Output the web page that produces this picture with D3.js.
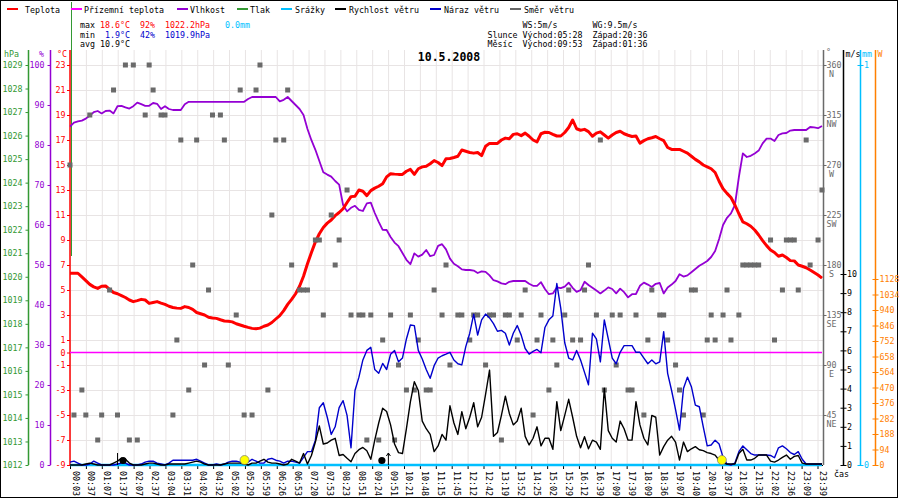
<!DOCTYPE html>
<html>
<head>
<meta charset="utf-8">
<script src="https://cdn.jsdelivr.net/npm/d3@7"></script>
<style>
  body { margin: 0; background: #fff; }
  svg text { font-family: "DejaVu Sans Mono", "Liberation Mono", monospace; font-size: 8.3px; }
</style>
</head>
<body>
<svg id="chart" width="900" height="500"></svg>
<script>
// time labels under the x axis (one per 4 records)
var timeLabels = ["00:03","00:37","01:07","01:37","02:07","02:37","03:04","03:31","04:02","04:32",
  "05:02","05:29","05:59","06:26","06:53","07:20","07:53","08:23","08:51","09:24","09:51","10:21",
  "10:48","11:15","11:45","12:12","12:42","13:19","13:52","14:25","15:02","15:29","16:12","16:39",
  "17:09","17:39","18:09","18:36","19:07","19:40","20:10","20:37","21:05","21:35","22:02","22:36",
  "23:09","23:39"];

// Teplota, °C
var temperature = [
  6.34,6.34,6.34,6.05,5.75,5.45,5.25,5.13,5.3,5.32,
  5.05,4.8,4.7,4.55,4.4,4.2,4.07,4.15,4.25,4.2,
  3.93,4.0,4.07,3.95,3.85,3.7,3.6,3.55,3.53,3.67,
  3.6,3.45,3.2,3.1,3.0,2.82,2.76,2.73,2.62,2.52,
  2.5,2.45,2.3,2.2,2.1,2.01,1.93,1.9,1.95,2.1,
  2.2,2.4,2.68,2.95,3.35,3.85,4.25,4.7,5.3,6.1,
  7.1,8.0,8.85,9.5,10.0,10.35,10.6,10.95,11.2,11.5,
  12.0,12.47,12.5,13.0,12.9,12.55,12.95,13.15,13.3,13.5,
  14.05,14.3,14.27,14.25,14.25,14.5,14.65,14.25,14.7,14.85,
  14.9,15.1,15.35,15.2,14.95,15.5,15.52,15.6,15.7,16.2,
  16.1,16.0,15.95,16.0,15.75,16.5,16.73,16.73,16.73,17.0,
  17.15,17.1,17.45,17.5,17.35,17.55,17.3,17.0,16.85,17.5,
  17.62,17.6,17.45,17.32,17.32,17.6,18.0,18.6,17.9,17.78,
  17.85,17.67,17.3,17.55,17.65,17.4,17.15,17.4,17.6,17.7,
  17.5,17.38,17.28,17.32,16.75,16.95,17.1,17.18,17.28,17.1,
  16.95,16.4,16.25,16.25,16.25,16.1,15.95,15.7,15.45,15.25,
  15.0,14.85,14.7,14.4,13.7,13.1,12.73,12.4,11.8,11.1,
  10.45,10.3,10.1,9.8,9.4,8.95,8.55,8.2,8.0,7.7,
  7.8,7.6,7.35,7.33,7.0,6.9,6.78,6.6,6.4,6.2,5.95];

// Vlhkost, %
var humidity = [
  84.6,85.6,85.9,86.1,86.6,87.3,88.2,88.5,87.9,88.5,
  88.6,87.9,89.7,89.8,89.4,89.1,89.7,90.6,90.2,89.8,
  89.8,90.5,90.3,89.0,89.7,89.0,88.75,88.75,88.75,90.2,
  90.8,90.8,90.8,90.8,90.8,90.8,90.8,90.8,90.8,90.8,
  90.8,90.8,90.8,90.8,90.8,91.5,92,92,92,92,
  92,92,92,90.9,91.3,92,91.0,90.0,89.0,87.5,
  84.0,81.2,78.8,76.0,73.2,72.6,72.1,71.0,70.1,65.0,
  63.4,64.3,64.8,63.8,63.5,65.4,65.6,63.0,60.8,58.8,
  58.75,57.0,55.6,54.7,53.0,51.3,50.2,52.9,52.1,52.6,
  53.75,52.2,52.5,54.8,55.2,53.9,51.6,50.3,49.7,48.9,
  48.75,48.75,48.6,48.0,48.4,48.3,47.4,46.2,45.9,45.4,
  45.2,45.8,46.0,46.0,46.0,46.0,45.3,44.8,44.8,45.7,
  44.0,42.7,42.9,44.4,44.2,44.6,45.6,44.3,43.3,43.7,
  45.8,45.0,44.3,43.6,42.9,43.6,44.4,44.0,42.9,44.1,
  43.2,41.9,42.7,42.75,44.8,45.6,45.1,44.5,45.3,45.5,
  42.9,44.4,45.1,46.0,47.7,47.1,47.4,48.2,49.0,49.8,
  50.4,51.0,52.0,53.5,56.5,60.0,61.8,62.9,65.0,72.0,
  77.9,77.0,77.3,77.9,78.6,80.4,81.6,81.6,81.0,82.5,
  82.9,83.0,83.6,83.75,83.75,83.75,83.75,84.5,84.4,84.2,84.75];

// Rychlost větru, m/s
var windSpeed = [
  0,0,0,0,0.05,0.1,0.05,0,0,0,
  0,0.1,0.2,0.35,0.3,0.1,0,0,0,0.05,
  0.1,0.1,0.05,0,0,0.05,0.05,0.05,0.05,0.05,
  0.1,0.15,0.2,0.15,0.05,0,0,0,0,0.05,
  0.1,0.1,0.1,0.1,0.05,0,0.1,0.1,0.2,0.3,
  0.15,0.1,0.1,0.05,0,0.05,0.3,0.2,0.1,0.6,
  0.05,0.5,1.2,2.04,1.1,1.15,1.3,1.4,0.5,0.55,
  0.35,0.17,0.6,0.8,0.92,0.75,0.3,1.3,2.2,2.97,
  2.8,2.1,1.1,0.65,0.6,1.9,3.3,4.36,3.9,2.3,
  1.9,1.6,0.7,1.0,1.6,1.3,3.1,2.2,1.6,2.79,
  1.9,2.5,3.26,2.0,2.5,3.7,4.97,1.5,1.7,2.6,
  3.6,2.7,2.1,2.3,2.97,1.5,1.05,1.4,2.0,1.0,
  1.4,1.4,0.82,3.32,1.8,2.6,3.44,2.5,1.5,0.9,
  1.48,0.85,1.3,1.2,0.82,4.02,1.8,1.4,1.2,2.3,
  1.9,1.3,1.3,3.32,2.1,1.4,1.05,2.6,2.5,0.52,
  0.96,1.3,1.5,1.2,0.26,1.2,0.7,0.85,0.96,0.8,
  0.75,0.65,0.6,0.52,0.25,0.1,0.05,0.05,0.05,0.6,
  0.82,0.26,0.26,0.35,0.52,0.52,0.52,0.2,0.15,0.26,
  0.4,0.52,0.3,0.45,0.5,0.1,0.05,0.05,0.05,0.05,0.05];

// Náraz větru, m/s
var windGust = [
  0.15,0.2,0.1,0,0,0.05,0.2,0.1,0,0,
  0,0,0.05,0.1,0.1,0,0,0,0.05,0.15,
  0.2,0.2,0.1,0.05,0,0.1,0.25,0.25,0.25,0.25,
  0.25,0.25,0.3,0.2,0.1,0,0,0.05,0,0.05,
  0.15,0.2,0.2,0.15,0.1,0.15,0.3,0.2,0.1,0.1,
  0.3,0.35,0.25,0.2,0.1,0.2,0.2,0.15,0.1,0.4,
  0.7,0.7,1.3,3.0,3.26,2.5,1.6,2.0,3.0,3.37,
  2.6,0.9,3.9,4.6,5.5,6.0,6.16,5.0,4.8,5.32,
  5.0,5.8,6.0,5.4,5.6,6.6,7.33,7.3,6.0,5.55,
  5.0,4.54,5.2,5.6,5.72,5.8,5.9,5.5,5.3,5.24,
  6.2,6.9,7.9,6.8,7.6,7.9,7.7,7.4,7.0,7.05,
  6.9,6.28,6.9,7.3,6.8,6.1,5.8,5.95,6.05,5.88,
  7.2,7.6,7.8,9.5,8.2,6.4,5.6,5.5,6.0,5.5,
  4.85,4.2,6.9,6.6,5.4,7.6,6.6,5.6,5.3,5.9,
  6.25,6.25,6.25,5.9,5.9,5.6,5.3,5.5,5.3,5.4,
  6.98,4.8,3.9,2.9,1.83,4.0,4.6,4.1,3.14,3.05,
  2.0,1.0,1.05,1.3,1.1,0.4,0.05,0,0.1,0.7,
  1.0,0.8,0.6,0.52,0.52,0.52,0.52,0.5,0.38,0.9,
  1.0,0.85,0.65,0.55,0.7,0.3,0.05,0.05,0.05,0.05,0.05];

// Směr větru, degrees (null = no mark)
var windDir = [
  270,45,null,67.5,45,315,null,22.5,45,null,
  157.5,337.5,45,null,360,22.5,360,22.5,null,315,
  360,337.5,null,315,315,null,45,112.5,292.5,null,
  67.5,180,292.5,null,90,157.5,315,null,315,292.5,
  90,null,135,337.5,45,null,45,337.5,360,null,
  67.5,225,292.5,null,292.5,337.5,180,null,157.5,157.5,
  157.5,null,202.5,202.5,135,null,225,180,202.5,null,
  247.5,135,null,135,135,22.5,135,null,22.5,112.5,
  null,135,22.5,90,null,67.5,135,67.5,112.5,null,
  67.5,67.5,157.5,null,135,180,90,null,135,135,
  null,112.5,135,135,null,90,135,135,null,22.5,
  135,135,null,112.5,135,157.5,null,45,112.5,135,
  null,67.5,112.5,90,null,135,157.5,112.5,null,112.5,
  157.5,180,null,135,292.5,67.5,null,135,90,135,
  null,67.5,67.5,135,null,45,112.5,157.5,null,135,
  135,112.5,null,90,67.5,45,null,157.5,157.5,null,
  45,112.5,135,112.5,null,135,157.5,112.5,null,135,
  180,180,180,180,180,null,null,202.5,112.5,null,
  157.5,202.5,202.5,202.5,157.5,null,292.5,180,null,202.5,247.5];

// Přízemní teplota (°C) and Srážky (mm) - both read as zero all day
var groundTemp = [
  0,0,0,0,0,0,0,0,0,0,0,0,0,0,0,0,0,0,0,0,0,0,0,0,0,0,0,0,0,0,0,0,0,0,0,0,0,0,0,0,
  0,0,0,0,0,0,0,0,0,0,0,0,0,0,0,0,0,0,0,0,0,0,0,0,0,0,0,0,0,0,0,0,0,0,0,0,0,0,0,0,
  0,0,0,0,0,0,0,0,0,0,0,0,0,0,0,0,0,0,0,0,0,0,0,0,0,0,0,0,0,0,0,0,0,0,0,0,0,0,0,0,
  0,0,0,0,0,0,0,0,0,0,0,0,0,0,0,0,0,0,0,0,0,0,0,0,0,0,0,0,0,0,0,0,0,0,0,0,0,0,0,0,
  0,0,0,0,0,0,0,0,0,0,0,0,0,0,0,0,0,0,0,0,0,0,0,0,0,0,0,0,0,0,0];
var rain = [
  0,0,0,0,0,0,0,0,0,0,0,0,0,0,0,0,0,0,0,0,0,0,0,0,0,0,0,0,0,0,0,0,0,0,0,0,0,0,0,0,
  0,0,0,0,0,0,0,0,0,0,0,0,0,0,0,0,0,0,0,0,0,0,0,0,0,0,0,0,0,0,0,0,0,0,0,0,0,0,0,0,
  0,0,0,0,0,0,0,0,0,0,0,0,0,0,0,0,0,0,0,0,0,0,0,0,0,0,0,0,0,0,0,0,0,0,0,0,0,0,0,0,
  0,0,0,0,0,0,0,0,0,0,0,0,0,0,0,0,0,0,0,0,0,0,0,0,0,0,0,0,0,0,0,0,0,0,0,0,0,0,0,0,
  0,0,0,0,0,0,0,0,0,0,0,0,0,0,0,0,0,0,0,0,0,0,0,0,0,0,0,0,0,0,0];

// sun / moon events, position as record index
var sunEvents = [{ time: "05:28", i: 44.1 }, { time: "20:36", i: 164.7 }];
var moonEvents = [{ time: "01:36", i: 13.4, kind: "set" }, { time: "09:53", i: 78.8, kind: "rise" }];

// axis ticks
var tempTicks = [23,21,19,17,15,13,11,9,7,5,3,1,0,-1,-3,-5,-7,-9];
var pressureTicks = [1012,1013,1014,1015,1016,1017,1018,1019,1020,1021,1022,1023,1024,1025,1026,1027,1028,1029];
var humidityTicks = [0,10,20,30,40,50,60,70,80,90,100];
var dirTicks = [45,90,135,180,225,270,315,360];
var dirNames = ["NE","E","SE","S","SW","W","NW","N"];
var windTicks = [0,1,2,3,4,5,6,7,8,9,10];
var rainTicks = [0,1];
var powerTicks = [0,94,188,282,376,470,564,658,752,846,940,1034,1128];

var legendItems = ["Teplota","Přízemní teplota","Vlhkost","Tlak","Srážky","Rychlost větru","Náraz větru","Směr větru"];
var legendColors = ["#ff0000","#ff00ff","#9400d3","#339933","#00bfff","#000000","#0000cc","#666666"];

var red = "#ff0000", purple = "#9400d3", green = "#339933", cyan = "#00bfff",
    blue = "#0000cc", grey = "#6a6a6a", orange = "#ff8000";

var svg = d3.select("#chart");
var top0 = 50, bottom0 = 465, left0 = 70, right0 = 823;
var plain = d => String(d);

var x = d3.scaleLinear().domain([0, temperature.length - 1]).range([70, 822]);
var xLab = d3.scalePoint().domain(timeLabels).range([70, 817.5]);
var yT = d3.scaleLinear().domain([-9, 23]).range([465, 65]);
var yH = d3.scaleLinear().domain([0, 100]).range([465, 65]);
var yP = d3.scaleLinear().domain([1012, 1029]).range([465, 65]);
var yDir = d3.scaleLinear().domain([0, 360]).range([465, 65]);
var yW = d3.scaleLinear().domain([0, 10]).range([465, 274]);
var yMM = d3.scaleLinear().domain([0, 1]).range([465, 65]);
var yPow = d3.scaleLinear().domain([0, 1128]).range([465, 279]);

// frame
svg.append("rect").attr("x", 0.5).attr("y", 0.5).attr("width", 897).attr("height", 497)
    .attr("fill", "none").attr("stroke", "#000");

// grid
var grid = svg.append("g");
grid.selectAll(".vgrid").data(timeLabels).join("line")
    .attr("class", "vgrid")
    .attr("x1", d => xLab(d) + 0.5).attr("x2", d => xLab(d) + 0.5)
    .attr("y1", top0).attr("y2", bottom0)
    .attr("stroke", "#e8e4e4");
grid.selectAll(".hgrid").data(tempTicks.filter(d => d !== 0)).join("line")
    .attr("class", "hgrid")
    .attr("x1", left0).attr("x2", right0)
    .attr("y1", d => yT(d) + 0.5).attr("y2", d => yT(d) + 0.5)
    .attr("stroke", "#e8e4e4");

// x axis ticks + labels
svg.append("line").attr("x1", left0).attr("x2", right0).attr("y1", 465.5).attr("y2", 465.5).attr("stroke", "#000");
svg.selectAll(".xtick").data(timeLabels).join("line")
    .attr("x1", d => xLab(d) + 0.5).attr("x2", d => xLab(d) + 0.5)
    .attr("y1", 465).attr("y2", 469).attr("stroke", "#000");
svg.selectAll(".xlab").data(timeLabels).join("text")
    .attr("transform", d => `translate(${xLab(d) + 2.5},471) rotate(90)`)
    .attr("fill", "#000")
    .text(d => d);

// left axes
function leftAxis(scale, ticks, xPos, color, pad) {
    var g = svg.append("g").attr("transform", `translate(${xPos},0)`)
        .call(d3.axisLeft(scale).tickValues(ticks).tickFormat(plain).tickSize(3).tickPadding(pad));
    g.select(".domain").remove();
    g.selectAll(".tick line").attr("stroke", color);
    g.selectAll(".tick text").attr("fill", color);
    g.append("line").attr("y1", top0).attr("y2", bottom0).attr("stroke", color).attr("stroke-width", 1.5);
    return g;
}
leftAxis(yP, pressureTicks, 28.5, green, 3);
leftAxis(yH, humidityTicks, 50.5, purple, 3);
leftAxis(yT, tempTicks, 70, red, 1.5);

// odd green stub beside the temperature axis
svg.append("line").attr("x1", 71.5).attr("x2", 71.5).attr("y1", 2).attr("y2", 256)
    .attr("stroke", green).attr("stroke-width", 1);

svg.append("text").attr("x", 4).attr("y", 57).attr("fill", green).text("hPa");
svg.append("text").attr("x", 39).attr("y", 57).attr("fill", purple).text("%");
svg.append("text").attr("x", 57).attr("y", 57).attr("fill", red).text("°C");

// right axes
function rightAxis(scale, ticks, xPos, color, pad, cross) {
    var g = svg.append("g").attr("transform", `translate(${xPos},0)`)
        .call(d3.axisRight(scale).tickValues(ticks).tickFormat(plain).tickSize(3).tickPadding(pad));
    g.select(".domain").remove();
    g.selectAll(".tick line").attr("stroke", color);
    if (cross) g.selectAll(".tick line").attr("x1", -3);
    g.selectAll(".tick text").attr("fill", color);
    g.append("line").attr("y1", top0).attr("y2", bottom0).attr("stroke", color).attr("stroke-width", 1.5);
    return g;
}
var dirAxis = rightAxis(yDir, dirTicks, 823.5, grey, 0, false);
dirAxis.selectAll(".tick").append("text")
    .attr("x", 8).attr("y", 11).attr("text-anchor", "middle").attr("fill", grey)
    .text((d, i) => dirNames[i]);
rightAxis(yW, windTicks, 843.5, "#000", 0.5, true);
rightAxis(yMM, rainTicks, 860.5, cyan, 0.5, true);
rightAxis(yPow, powerTicks, 875.5, orange, 1, true);

svg.append("text").attr("x", 826).attr("y", 55).attr("fill", grey).text("°");
svg.append("text").attr("x", 845.5).attr("y", 57).attr("fill", "#000").text("m/s");
svg.append("text").attr("x", 862).attr("y", 57).attr("fill", cyan).text("mm");
svg.append("text").attr("x", 877.5).attr("y", 57).attr("fill", orange).text("W");
svg.append("text").attr("x", 834).attr("y", 477).attr("fill", "#000").text("čas");

// series
var plot = svg.append("g");
function seriesLine(values, scale, color, width) {
    plot.append("path")
        .datum(values)
        .attr("fill", "none").attr("stroke", color).attr("stroke-width", width)
        .attr("stroke-linejoin", "round")
        .attr("d", d3.line().x((d, i) => x(i)).y(d => scale(d)));
}
seriesLine(groundTemp, yT, "#ff00ff", 1.5);
seriesLine(humidity, yH, purple, 1.8);
seriesLine(temperature, yT, red, 3);

plot.selectAll(".dir").data(windDir.map((d, i) => ({ i: i, d: d })).filter(p => p.d !== null))
    .join("rect")
    .attr("x", p => x(p.i) - 2.5).attr("y", p => yDir(p.d) - 2.5)
    .attr("width", 5).attr("height", 5)
    .attr("fill", grey);

seriesLine(rain, yMM, cyan, 2.5);
seriesLine(windGust, yW, blue, 1.4);
seriesLine(windSpeed, yW, "#000", 1.4);

// sun and moon
plot.selectAll(".sun").data(sunEvents).join("circle")
    .attr("cx", d => x(d.i)).attr("cy", 460).attr("r", 4.5)
    .attr("fill", "#ffff00").attr("stroke", "#777").attr("stroke-width", 0.7);
plot.selectAll(".moon").data(moonEvents).join("circle")
    .attr("cx", d => x(d.i)).attr("cy", 460.5).attr("r", 3.6)
    .attr("fill", "#000");
moonEvents.forEach(function (m) {
    var mx = x(m.i) + (m.kind === "rise" ? 6.5 : -5.5);
    plot.append("line").attr("x1", mx).attr("x2", mx).attr("y1", 453).attr("y2", 465)
        .attr("stroke", "#000").attr("stroke-width", 1);
    if (m.kind === "rise") {
        plot.append("path").attr("d", `M${mx - 2},${456} L${mx},${453} L${mx + 2},${456}`)
            .attr("fill", "none").attr("stroke", "#000");
    }
});

// legend
var legendLineX = [7, 71, 177, 237, 281, 335, 430, 510];
var legendTextX = [25, 84, 190, 250, 295, 349, 444, 524];
legendItems.forEach(function (name, i) {
    svg.append("line").attr("x1", legendLineX[i]).attr("x2", legendLineX[i] + 11)
        .attr("y1", 9).attr("y2", 9).attr("stroke", legendColors[i]).attr("stroke-width", 2);
    svg.append("text").attr("x", legendTextX[i]).attr("y", 12.5).attr("fill", "#000").text(name);
});

// stats
function txt(xp, yp, s, color) {
    svg.append("text").attr("x", xp).attr("y", yp).attr("fill", color).text(s);
}
txt(80, 27.5, "max", "#000");
txt(100, 27.5, "18.6°C", red);
txt(140, 27.5, "92%", red);
txt(165, 27.5, "1022.2hPa", red);
txt(225, 27.5, "0.0mm", cyan);
txt(80, 37.5, "min", "#000");
txt(105, 37.5, "1.9°C", blue);
txt(140, 37.5, "42%", blue);
txt(165, 37.5, "1019.9hPa", blue);
txt(80, 47, "avg 10.9°C", "#000");

txt(522.5, 27.5, "WS:5m/s", "#000");
txt(592.5, 27.5, "WG:9.5m/s", "#000");
txt(487.5, 37.5, "Slunce", "#000");
txt(522.5, 37.5, "Východ:05:28", "#000");
txt(592.5, 37.5, "Západ:20:36", "#000");
txt(487.5, 47, "Měsíc", "#000");
txt(522.5, 47, "Východ:09:53", "#000");
txt(592.5, 47, "Západ:01:36", "#000");

svg.append("text").attr("x", 449).attr("y", 61).attr("text-anchor", "middle")
    .style("font-size", "11.5px").style("font-weight", "bold").attr("fill", "#000")
    .text("10.5.2008");
</script>
</body>
</html>
